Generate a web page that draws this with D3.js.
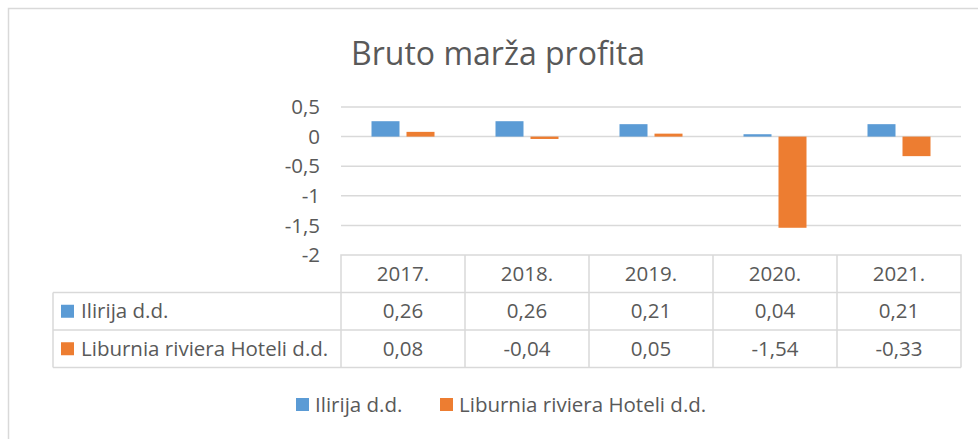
<!DOCTYPE html>
<html>
<head>
<meta charset="utf-8">
<script src="https://cdn.jsdelivr.net/npm/d3@7"></script>
<style>
  body { margin: 0; background: #fff; }
  svg text { font-family: "Open Sans", "Noto Sans", sans-serif; fill: #595959; }
</style>
</head>
<body>
<svg width="978" height="439"></svg>
<script>
var years = ["2017.", "2018.", "2019.", "2020.", "2021."];
var seriesNames = ["Ilirija d.d.", "Liburnia riviera Hoteli d.d."];
var ilirija = [0.26, 0.26, 0.21, 0.04, 0.21];
var liburnia = [0.08, -0.04, 0.05, -1.54, -0.33];
var yTicks = [0.5, 0, -0.5, -1, -1.5, -2];
var colors = ["#5B9BD5", "#ED7D31"];

var svg = d3.select("svg");
var fmt = function(v) { return String(v).replace(".", ","); };
var fs = "20.5px";

// chart frame (runs off the right/bottom of the picture)
svg.append("path")
  .attr("d", "M8.5,440 L8.5,8.5 L980,8.5")
  .attr("fill", "none").attr("stroke", "#d9d9d9").attr("stroke-width", 1.5);

svg.append("text")
  .attr("x", 498).attr("y", 65)
  .attr("text-anchor", "middle")
  .style("font-size", "32px")
  .text("Bruto marža profita");

var left = 341, right = 961;
var x = d3.scaleBand().domain(years).range([left, right]);
var y = d3.scaleLinear().domain([-2, 0.5]).range([255, 107]);

// gridlines + tick labels
var grid = svg.append("g");
yTicks.forEach(function(t) {
  if (t > -2) {
    grid.append("line")
      .attr("x1", left).attr("x2", right)
      .attr("y1", y(t)).attr("y2", y(t))
      .attr("stroke", "#d9d9d9").attr("stroke-width", 1.5);
  }
  grid.append("text")
    .attr("x", 320).attr("y", y(t))
    .attr("dy", "0.35em")
    .attr("text-anchor", "end")
    .style("font-size", fs)
    .text(fmt(t));
});

// bars
var barW = 28, gap = 7;
var all = [ilirija, liburnia];
all.forEach(function(vals, s) {
  svg.append("g").selectAll("rect")
    .data(vals)
    .enter()
    .append("rect")
    .attr("x", function(d, i) {
      var c = x(years[i]) + x.bandwidth() / 2;
      return s == 0 ? c - gap / 2 - barW : c + gap / 2;
    })
    .attr("y", function(d) { return y(Math.max(0, d)); })
    .attr("width", barW)
    .attr("height", function(d) { return Math.abs(y(d) - y(0)); })
    .attr("fill", colors[s]);
});

// data table
var rowH = 37.5;
var tTop = 255;
var tleft = 53;
var tg = svg.append("g");
var lineCol = "#d9d9d9";
tg.append("path")
  .attr("d", "M" + left + "," + (tTop + rowH) + " L" + left + "," + tTop + " L" + right + "," + tTop + " L" + right + "," + (tTop + rowH * 3))
  .attr("fill", "none").attr("stroke", lineCol).attr("stroke-width", 1.5);
for (var r = 1; r <= 3; r++) {
  tg.append("line")
    .attr("x1", tleft).attr("x2", right)
    .attr("y1", tTop + rowH * r).attr("y2", tTop + rowH * r)
    .attr("stroke", lineCol).attr("stroke-width", 1.5);
}
tg.append("line")
  .attr("x1", tleft).attr("x2", tleft)
  .attr("y1", tTop + rowH).attr("y2", tTop + rowH * 3)
  .attr("stroke", lineCol).attr("stroke-width", 1.5);
tg.append("line")
  .attr("x1", left).attr("x2", left)
  .attr("y1", tTop + rowH).attr("y2", tTop + rowH * 3)
  .attr("stroke", lineCol).attr("stroke-width", 1.5);
years.forEach(function(yr, i) {
  if (i > 0) {
    tg.append("line")
      .attr("x1", x(yr)).attr("x2", x(yr))
      .attr("y1", tTop).attr("y2", tTop + rowH * 3)
      .attr("stroke", lineCol).attr("stroke-width", 1.5);
  }
  tg.append("text")
    .attr("x", x(yr) + x.bandwidth() / 2).attr("y", tTop + rowH / 2)
    .attr("dy", "0.35em").attr("text-anchor", "middle")
    .style("font-size", fs).text(yr);
});
all.forEach(function(vals, s) {
  var cy = tTop + rowH * (s + 1.5);
  tg.append("rect")
    .attr("x", 61).attr("y", cy - 6.5).attr("width", 13).attr("height", 13)
    .attr("fill", colors[s]);
  tg.append("text")
    .attr("x", 81).attr("y", cy).attr("dy", "0.35em")
    .style("font-size", fs).text(seriesNames[s]);
  vals.forEach(function(v, i) {
    tg.append("text")
      .attr("x", x(years[i]) + x.bandwidth() / 2).attr("y", cy)
      .attr("dy", "0.35em").attr("text-anchor", "middle")
      .style("font-size", fs).text(fmt(v));
  });
});

// legend
var legX = [296, 440];
seriesNames.forEach(function(n, s) {
  svg.append("rect")
    .attr("x", legX[s]).attr("y", 398).attr("width", 13).attr("height", 13)
    .attr("fill", colors[s]);
  svg.append("text")
    .attr("x", legX[s] + 19).attr("y", 405).attr("dy", "0.35em")
    .style("font-size", fs).text(n);
});
</script>
</body>
</html>
